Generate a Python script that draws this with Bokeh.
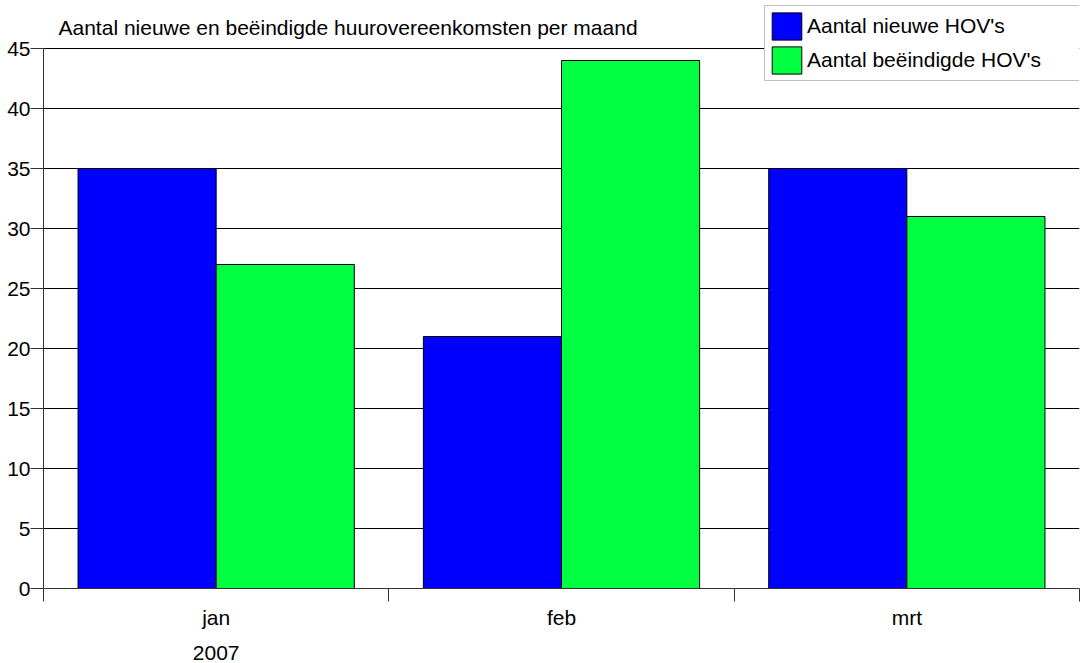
from bokeh.plotting import figure
from bokeh.models import (Range1d, FixedTicker, Legend, LegendItem, Label, LinearAxis, Grid)
from bokeh.embed import file_html
from bokeh.resources import INLINE

months = ["jan", "feb", "mrt"]
year_label = "2007"
nieuwe = [35, 21, 35]
beeindigde = [27, 44, 31]
title_text = "Aantal nieuwe en beëindigde huurovereenkomsten per maand"
series_names = ["Aantal nieuwe HOV's", "Aantal beëindigde HOV's"]
y_ticks = [0, 5, 10, 15, 20, 25, 30, 35, 40, 45]

FONT = "Liberation Sans"
FS = "21px"

Y_MAX = y_ticks[-1]
PX_PER_UNIT = 12.0
TOP_EXTRA = 43 / PX_PER_UNIT  # frame extends above the 45 line to hold title/legend

p = figure(width=1081, height=663, output_backend="svg", toolbar_location=None,
           x_range=Range1d(0, len(months)), y_range=Range1d(0, Y_MAX + TOP_EXTRA),
           min_border_left=43, min_border_right=2, min_border_top=5, min_border_bottom=75,
           x_axis_type=None, y_axis_type=None)
p.outline_line_color = None
p.background_fill_color = "white"
p.border_fill_color = "white"

idx = list(range(len(months)))

# gridlines
p.add_layout(Grid(dimension=1, ticker=FixedTicker(ticks=y_ticks), grid_line_color="#000000",
                  grid_line_width=1))

r1 = p.vbar(x=[i + 0.3 for i in idx], top=nieuwe, width=0.4, bottom=0,
            fill_color="#0000ff", line_color="#000000", line_width=1)
r2 = p.vbar(x=[i + 0.7 for i in idx], top=beeindigde, width=0.4, bottom=0,
            fill_color="#00ff40", line_color="#000000", line_width=1)

# y axis
yaxis = LinearAxis(ticker=FixedTicker(ticks=y_ticks, minor_ticks=[]), bounds=(0, Y_MAX))
yaxis.axis_line_color = "#333333"
yaxis.major_tick_line_color = "#333333"
yaxis.major_tick_out = 13
yaxis.major_tick_in = 0
yaxis.minor_tick_line_color = None
yaxis.major_label_standoff = 0
yaxis.major_label_text_font = FONT
yaxis.major_label_text_font_size = FS
yaxis.major_label_text_color = "#000000"
p.add_layout(yaxis, "left")

# x axis (month labels at centres, ticks at boundaries)
centers = [i + 0.5 for i in idx]
xaxis = LinearAxis(ticker=FixedTicker(ticks=centers, minor_ticks=list(range(len(months) + 1))))
xaxis.major_label_overrides = {c: m for c, m in zip(centers, months)}
xaxis.axis_line_color = "#333333"
xaxis.major_tick_line_color = None
xaxis.major_tick_out = 13
xaxis.major_tick_in = 0
xaxis.minor_tick_line_color = "#333333"
xaxis.minor_tick_out = 13
xaxis.minor_tick_in = 0
xaxis.major_label_standoff = 4
xaxis.major_label_text_font = FONT
xaxis.major_label_text_font_size = FS
xaxis.major_label_text_color = "#000000"
p.add_layout(xaxis, "below")

# year axis
yr_axis = LinearAxis(ticker=FixedTicker(ticks=[centers[0]], minor_ticks=[]))
yr_axis.major_label_overrides = {centers[0]: year_label}
yr_axis.axis_line_color = None
yr_axis.major_tick_line_color = None
yr_axis.minor_tick_line_color = None
yr_axis.major_tick_out = 0
yr_axis.major_tick_in = 0
yr_axis.major_label_standoff = 14
yr_axis.major_label_text_font = FONT
yr_axis.major_label_text_font_size = FS
yr_axis.major_label_text_color = "#000000"
p.add_layout(yr_axis, "below")

# title (inside the extended frame)
p.add_layout(Label(x=15 / 345.33, y=Y_MAX + 21 / PX_PER_UNIT, text=title_text,
                   text_font=FONT, text_font_size=FS,
                   text_baseline="middle", text_align="left", text_color="#000000"))

legend = Legend(items=[LegendItem(label=series_names[0], renderers=[r1]),
                       LegendItem(label=series_names[1], renderers=[r2])],
                location=(721, 507), orientation="vertical",
                glyph_width=37, glyph_height=34, spacing=0, padding=3, margin=0,
                label_standoff=2, label_width=272, label_height=34,
                border_line_color="#808080", border_line_width=1,
                background_fill_color="white", background_fill_alpha=1,
                label_text_font=FONT, label_text_font_size=FS, label_text_color="#000000")
p.add_layout(legend, "center")

open("out.html", "w").write(file_html(p, INLINE))
